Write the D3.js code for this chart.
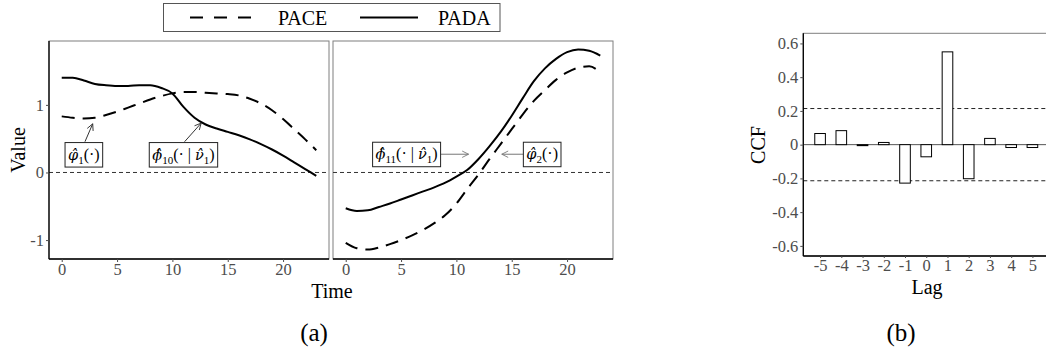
<!DOCTYPE html>
<html><head><meta charset="utf-8">
<script src="https://cdn.jsdelivr.net/npm/d3@7"></script>
<style>
body{margin:0;background:#fff}
svg{display:block}
svg text{font-family:"Liberation Serif","Times New Roman",serif}
</style>
</head><body>
<svg id="c" width="1046" height="356"></svg>
<script>
// ---------- data ----------
const timePoints = [0,1,2,3,4,5,6,7,8,9,10,11,12,13,14,15,16,17,18,19,20,21,22,23];
// panel 1 : phi_1 (PACE) and phi_10 (PADA)
const pace1 = [0.83,0.81,0.80,0.81,0.85,0.90,0.96,1.02,1.08,1.13,1.17,1.19,1.19,1.18,1.17,1.16,1.14,1.09,1.02,0.92,0.79,0.64,0.49,0.33];
const pada1 = [1.40,1.40,1.36,1.31,1.29,1.28,1.28,1.29,1.29,1.25,1.17,0.97,0.81,0.71,0.65,0.60,0.55,0.49,0.42,0.34,0.25,0.15,0.05,-0.05];
// panel 2 : phi_2 (PACE) and phi_11 (PADA)
const pace2 = [-1.04,-1.12,-1.14,-1.11,-1.06,-1.00,-0.93,-0.85,-0.75,-0.63,-0.46,-0.24,-0.03,0.20,0.42,0.64,0.86,1.06,1.22,1.37,1.48,1.55,1.57,1.48];
const pada2 = [-0.53,-0.57,-0.56,-0.51,-0.46,-0.40,-0.34,-0.28,-0.22,-0.15,-0.06,0.04,0.20,0.39,0.60,0.84,1.10,1.35,1.54,1.68,1.78,1.82,1.80,1.73];
const timeTicks = [0,5,10,15,20];
const valueTicks = [-1,0,1];
const seriesNames = ["PACE","PADA"];

// CCF
const lags = [-5,-4,-3,-2,-1,0,1,2,3,4,5];
const ccf = [0.066,0.083,-0.003,0.013,-0.228,-0.072,0.55,-0.202,0.037,-0.017,-0.017];
const ccfBound = 0.214;
const ccfTicks = [-0.6,-0.4,-0.2,0,0.2,0.4,0.6];

// annotations (data coordinates)
const annLeft = [
  {parts:[["φ̂","m"],["1","s"],["(·)","n"]], t:2.0, v:0.265, from:[2.1,0.455], to:[2.8,0.72]},
  {parts:[["ϕ̂","m"],["10","s"],["(· | ","n"],["ν̂","m"],["1","s"],[")","n"]], t:11.0, v:0.265, from:[11.1,0.455], to:[12.6,0.73]}
];
const annRight = [
  {parts:[["ϕ̂","m"],["11","s"],["(· | ","n"],["ν̂","m"],["1","s"],[")","n"]], t:5.5, v:0.27, side:"right", to:[11.1,0.27]},
  {parts:[["φ̂","m"],["2","s"],["(·)","n"]], t:17.75, v:0.27, side:"left", to:[14.1,0.27]}
];

// ---------- drawing ----------
const SERIF = '"Liberation Serif","Times New Roman",serif';
const svg = d3.select("#c");
const tickGrey = "#4d4d4d";
const borderGrey = "#7f7f7f";

const defs = svg.append("defs");
function marker(id, col){
  defs.append("marker").attr("id",id).attr("viewBox","0 0 10 10").attr("refX",9).attr("refY",5)
    .attr("markerWidth",8).attr("markerHeight",8).attr("orient","auto").attr("markerUnits","userSpaceOnUse")
    .append("path").attr("d","M1,1L9,5L1,9").attr("fill","none").attr("stroke",col).attr("stroke-width",1.1);
}
marker("arD","#333");
marker("arG","#777");

const yV = d3.scaleLinear().domain([-1.28,1.945]).range([259,41]);
const xL = d3.scaleLinear().domain([-1.15,24.15]).range([49,329]);
const xR = d3.scaleLinear().domain([-1.15,24.15]).range([333,613]);

function styleTicks(sel){
  sel.selectAll(".tick line").attr("stroke",tickGrey);
  sel.selectAll(".tick text").attr("fill",tickGrey).style("font-size","16.5px").style("font-family",SERIF);
  sel.attr("font-family",null).attr("font-size",null);
}

function panel(x, leftAxis, pace, pada){
  const g = svg.append("g");
  const [x0,x1] = x.range(); const [y0,y1] = [41,259];
  g.append("rect").attr("x",x0).attr("y",y0).attr("width",x1-x0).attr("height",y1-y0)
    .attr("fill","none").attr("stroke",borderGrey).attr("stroke-width",1);
  g.append("line").attr("x1",x0).attr("x2",x1).attr("y1",yV(0)).attr("y2",yV(0))
    .attr("stroke","#333").attr("stroke-width",1).attr("stroke-dasharray","4,3");
  const ax = g.append("g").attr("transform",`translate(0,${y1})`)
    .call(d3.axisBottom(x).tickValues(timeTicks).tickSize(3).tickPadding(1).tickFormat(d3.format("d")));
  ax.select(".domain").attr("stroke","#000").attr("stroke-width",1.3).attr("d",`M${x0},0H${x1}`);
  styleTicks(ax);
  if(leftAxis){
    const ay = g.append("g").attr("transform",`translate(${x0},0)`)
      .call(d3.axisLeft(yV).tickValues(valueTicks).tickSize(3).tickPadding(2).tickFormat(d=>d<0?"-"+Math.abs(d):String(d)));
    ay.select(".domain").attr("stroke","#000").attr("stroke-width",1.3).attr("d",`M0,${y0}V${y1}`);
    styleTicks(ay);
  }
  const line = d3.line().x((d,i)=>x(timePoints[i])).y(d=>yV(d)).curve(d3.curveMonotoneX);
  g.append("path").attr("d",line(pace)).attr("fill","none").attr("stroke","#000").attr("stroke-width",2).attr("stroke-dasharray","13,8");
  g.append("path").attr("d",line(pada)).attr("fill","none").attr("stroke","#000").attr("stroke-width",2);
  return g;
}
panel(xL,true,pace1,pada1);
panel(xR,false,pace2,pada2);

function mathText(g, parts, cx, cy){
  const t = g.append("text").attr("x",cx).attr("y",cy+5).attr("text-anchor","middle").style("font-size","16px");
  let shift = 0;
  parts.forEach(([s,k])=>{
    const ts = t.append("tspan").text(s);
    if(k==="m"){ ts.style("font-style","italic").style("font-family",'"DejaVu Serif",serif').style("font-size","14.5px").style("font-weight","300"); }
    if(k==="s"){ ts.style("font-size","11px").attr("dy",4-shift); shift=4; }
    else if(shift){ ts.attr("dy",-shift); shift=0; }
  });
  const bb = t.node().getBBox();
  g.insert("rect","text").attr("x",bb.x-3).attr("y",cy-12).attr("width",bb.width+6).attr("height",24.5)
    .attr("fill","#fff").attr("stroke","#222").attr("stroke-width",1);
  return {x0:bb.x-3, x1:bb.x+bb.width+3};
}
annLeft.forEach(a=>{
  const g = svg.append("g");
  g.append("line").attr("x1",xL(a.from[0])).attr("y1",yV(a.from[1])).attr("x2",xL(a.to[0])).attr("y2",yV(a.to[1]))
    .attr("stroke","#333").attr("stroke-width",1).attr("marker-end","url(#arD)");
  mathText(g.append("g"), a.parts, xL(a.t), yV(a.v));
});
annRight.forEach(a=>{
  const g = svg.append("g");
  const lg = g.append("g");
  const b = mathText(g.append("g"), a.parts, xR(a.t), yV(a.v));
  const sx = a.side==="right"? b.x1 : b.x0;
  lg.append("line").attr("x1",sx).attr("y1",yV(a.v)).attr("x2",xR(a.to[0])).attr("y2",yV(a.to[1]))
    .attr("stroke","#777").attr("stroke-width",1).attr("marker-end","url(#arG)");
});

// axis titles
svg.append("text").attr("transform","translate(25,150) rotate(-90)").attr("text-anchor","middle").style("font-size","20px").text("Value");
svg.append("text").attr("x",332).attr("y",298).attr("text-anchor","middle").style("font-size","20px").text("Time");
svg.append("text").attr("x",314).attr("y",341).attr("text-anchor","middle").style("font-size","25px").text("(a)");

// legend
const lgd = svg.append("g");
lgd.append("rect").attr("x",163.5).attr("y",3.5).attr("width",336.5).attr("height",28).attr("fill","#fff").attr("stroke","#555").attr("stroke-width",1);
lgd.append("line").attr("x1",190).attr("x2",252).attr("y1",17.5).attr("y2",17.5).attr("stroke","#000").attr("stroke-width",2).attr("stroke-dasharray","13,11");
lgd.append("text").attr("x",278).attr("y",24.5).style("font-size","20px").text(seriesNames[0]);
lgd.append("line").attr("x1",360).attr("x2",418).attr("y1",17.5).attr("y2",17.5).attr("stroke","#000").attr("stroke-width",2);
lgd.append("text").attr("x",438).attr("y",24.5).style("font-size","20px").text(seriesNames[1]);

// ---------- CCF ----------
const xC = d3.scaleLinear().domain([-5.79,5.8]).range([803.3,1049.4]);
const yC = d3.scaleLinear().domain([-0.66,0.66]).range([256,33.3]);
const cg = svg.append("g");
cg.append("rect").attr("x",803.3).attr("y",33.3).attr("width",1049.4-803.3).attr("height",256-33.3)
  .attr("fill","none").attr("stroke",borderGrey).attr("stroke-width",1);
cg.append("line").attr("x1",803.3).attr("x2",1049.4).attr("y1",yC(0)).attr("y2",yC(0)).attr("stroke","#555").attr("stroke-width",1);
[ccfBound,-ccfBound].forEach(b=>{
  cg.append("line").attr("x1",803.3).attr("x2",1049.4).attr("y1",yC(b)).attr("y2",yC(b))
    .attr("stroke","#222").attr("stroke-width",1).attr("stroke-dasharray","4,3");
});
cg.selectAll("rect.bar").data(lags).join("rect").attr("class","bar")
  .attr("x",d=>xC(d-0.25)).attr("width",xC(0.25)-xC(-0.25))
  .attr("y",(d,i)=>yC(Math.max(0,ccf[i]))).attr("height",(d,i)=>Math.max(1,Math.abs(yC(ccf[i])-yC(0))))
  .attr("fill","#fff").attr("stroke","#000").attr("stroke-width",1);
const cax = cg.append("g").attr("transform","translate(0,256)")
  .call(d3.axisBottom(xC).tickValues(lags).tickSize(2).tickPadding(1).tickFormat(d=>d<0?"-"+Math.abs(d):String(d)));
cax.select(".domain").attr("stroke","#000").attr("stroke-width",1.3).attr("d","M803.3,0H1049.4");
styleTicks(cax);
const cay = cg.append("g").attr("transform","translate(803.3,0)")
  .call(d3.axisLeft(yC).tickValues(ccfTicks).tickSize(3).tickPadding(2).tickFormat(d=>{const s=d3.format(".1f")(Math.abs(d)); return d<0?"-"+s:(d===0?"0":s);}));
cay.select(".domain").attr("stroke","#000").attr("stroke-width",1.3).attr("d","M0,33.3V256");
styleTicks(cay);
svg.append("text").attr("transform","translate(765,145) rotate(-90)").attr("text-anchor","middle").style("font-size","20px").text("CCF");
svg.append("text").attr("x",927).attr("y",294).attr("text-anchor","middle").style("font-size","20px").text("Lag");
svg.append("text").attr("x",901).attr("y",341).attr("text-anchor","middle").style("font-size","25px").text("(b)");
</script>
</body></html>
